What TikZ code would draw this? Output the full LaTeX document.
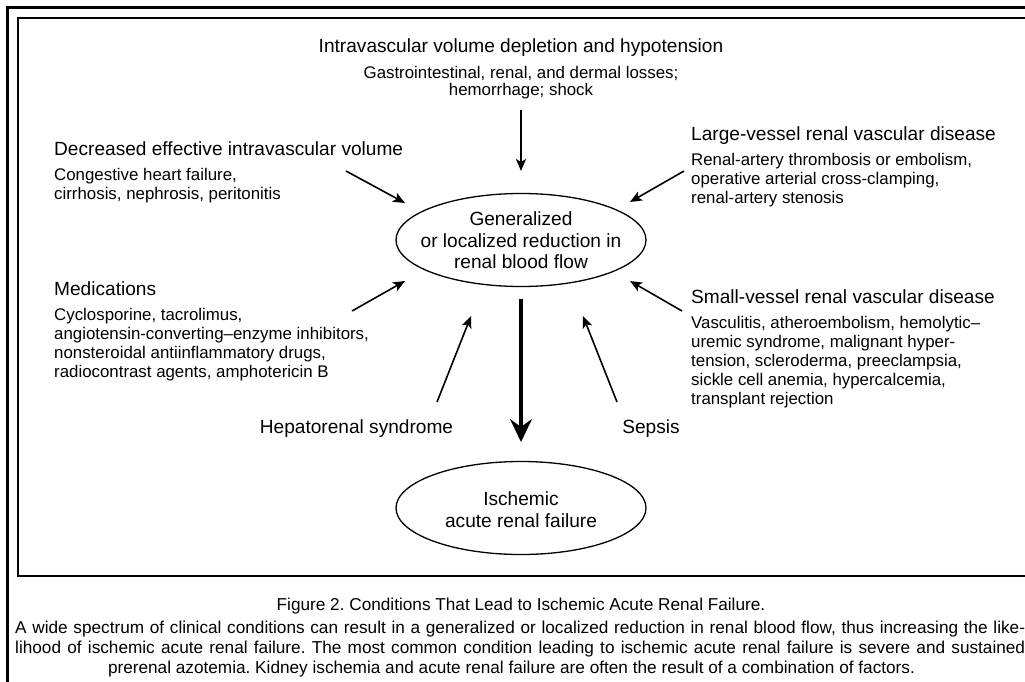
\documentclass[tikz,border=0pt]{standalone}
\usepackage{fontspec}
\setmainfont{Liberation Sans}
\usetikzlibrary{arrows.meta,shapes.geometric}
\frenchspacing
\newcommand\ttlfont{\fontsize{19.1}{22}\selectfont}
\newcommand\subfnt{\fontsize{16.85}{18.8}\selectfont}
\newcommand\capfnt{\fontsize{17.2}{20}\selectfont}
\tikzset{
  ttl/.style={inner sep=0pt, font=\ttlfont},
  sub/.style={inner sep=0pt, font=\subfnt},
  capt/.style={inner sep=0pt, font=\capfnt},
  oval/.style={draw, ellipse, line width=1.3pt, minimum width=250pt, minimum height=93pt, inner sep=0pt},
  thinarrow/.style={line width=1.6pt, -{Stealth[length=12pt,width=10pt,inset=3pt]}},
  bigarrow/.style={line width=3.3pt, -{Stealth[length=23pt,width=22pt,inset=8pt]}},
}
\begin{document}
\begin{tikzpicture}[x=1pt,y=-1pt]
\useasboundingbox (0,0) rectangle (1025,682);
\fill[white] (0,0) rectangle (1025,682);
% frames
\draw[line width=2.8pt] (7.5,700) -- (7.5,7.2) -- (1040,7.2);
\draw[line width=1.5pt] (1040,18.2) -- (18.2,18.2) -- (18.2,576) -- (1040,576);

% ellipses
\node[oval] (flow) at (521,240) {};
\node[oval] (arf) at (521,508) {};
\node[ttl, anchor=base] (flow1) at (521,225.5) {Generalized};
\node[ttl, anchor=base] (flow2) at (521,247) {or localized reduction in};
\node[ttl, anchor=base] (flow3) at (521,268.5) {renal blood flow};
\node[ttl, anchor=base] (arf1) at (521,505.5) {Ischemic};
\node[ttl, anchor=base] (arf2) at (521,527) {acute renal failure};

% top block
\node[ttl, anchor=base] (ivt) at (521,52.5) {Intravascular volume depletion and hypotension};
\node[sub, anchor=base] (iv1) at (521,78.5) {Gastrointestinal, renal, and dermal losses;};
\node[sub, anchor=base] (iv2) at (521,96) {hemorrhage; shock};

% decreased effective volume
\node[ttl, anchor=base west] (dt) at (54,155.5) {Decreased effective intravascular volume};
\node[sub, anchor=base west] (d1) at (54,180.5) {Congestive heart failure,};
\node[sub, anchor=base west] (d2) at (54,199) {cirrhosis, nephrosis, peritonitis};

% large vessel
\node[ttl, anchor=base west] (lt) at (691,140.5) {Large-vessel renal vascular disease};
\node[sub, anchor=base west] (l1) at (691,165.5) {Renal-artery thrombosis or embolism,};
\node[sub, anchor=base west] (l2) at (691,184.5) {operative arterial cross-clamping,};
\node[sub, anchor=base west] (l3) at (691,203.5) {renal-artery stenosis};

% medications
\node[ttl, anchor=base west] (mt) at (54,295.5) {Medications};
\node[sub, anchor=base west] (m1) at (54,320.5) {Cyclosporine, tacrolimus,};
\node[sub, anchor=base west] (m2) at (54,339.5) {angiotensin-converting–enzyme inhibitors,};
\node[sub, anchor=base west] (m3) at (54,358.5) {nonsteroidal antiinflammatory drugs,};
\node[sub, anchor=base west] (m4) at (54,377.5) {radiocontrast agents, amphotericin B};

% small vessel
\node[ttl, anchor=base west] (st) at (691,303.5) {Small-vessel renal vascular disease};
\node[sub, anchor=base west] (s1) at (691,328.5) {Vasculitis, atheroembolism, hemolytic–};
\node[sub, anchor=base west] (s2) at (691,347.5) {uremic syndrome, malignant hyper-};
\node[sub, anchor=base west] (s3) at (691,366.5) {tension, scleroderma, preeclampsia,};
\node[sub, anchor=base west] (s4) at (691,385.5) {sickle cell anemia, hypercalcemia,};
\node[sub, anchor=base west] (s5) at (691,404.5) {transplant rejection};

% bottom labels
\node[ttl, anchor=base] (hep) at (356.5,433.5) {Hepatorenal syndrome};
\node[ttl, anchor=base] (sep) at (651,433.5) {Sepsis};

% arrow ends
\coordinate (aT0) at (521,110);   \coordinate (aT1) at (521,171);
\coordinate (aD0) at (346,171);   \coordinate (aD1) at (405,203);
\coordinate (aL0) at (684,171);   \coordinate (aL1) at (630,202);
\coordinate (aM0) at (352,311);   \coordinate (aM1) at (405,281);
\coordinate (aS0) at (682,311);   \coordinate (aS1) at (630,281);
\coordinate (aH0) at (437,402);   \coordinate (aH1) at (471,316);
\coordinate (aP0) at (617,402);   \coordinate (aP1) at (583,316);
\coordinate (aB0) at (521,299);   \coordinate (aB1) at (521,442);

\draw[thinarrow] (aT0) -- (aT1);
\draw[thinarrow] (aD0) -- (aD1);
\draw[thinarrow] (aL0) -- (aL1);
\draw[thinarrow] (aM0) -- (aM1);
\draw[thinarrow] (aS0) -- (aS1);
\draw[thinarrow] (aH0) -- (aH1);
\draw[thinarrow] (aP0) -- (aP1);
\draw[bigarrow] (aB0) -- (aB1);

% caption
\node[capt, anchor=base] (cap0) at (521,610.5) {Figure 2. Conditions That Lead to Ischemic Acute Renal Failure.};
\node[capt, anchor=base west] (cap1) at (15,633.5) {\makebox[1010pt][s]{A wide spectrum of clinical conditions can result in a generalized or localized reduction in renal blood flow, thus increasing the like-}};
\node[capt, anchor=base west] (cap2) at (15,653.5) {\makebox[1010pt][s]{lihood of ischemic acute renal failure. The most common condition leading to ischemic acute renal failure is severe and sustained}};
\node[capt, anchor=base] (cap3) at (511.5,673.5) {prerenal azotemia. Kidney ischemia and acute renal failure are often the result of a combination of factors.};
\end{tikzpicture}
\end{document}
